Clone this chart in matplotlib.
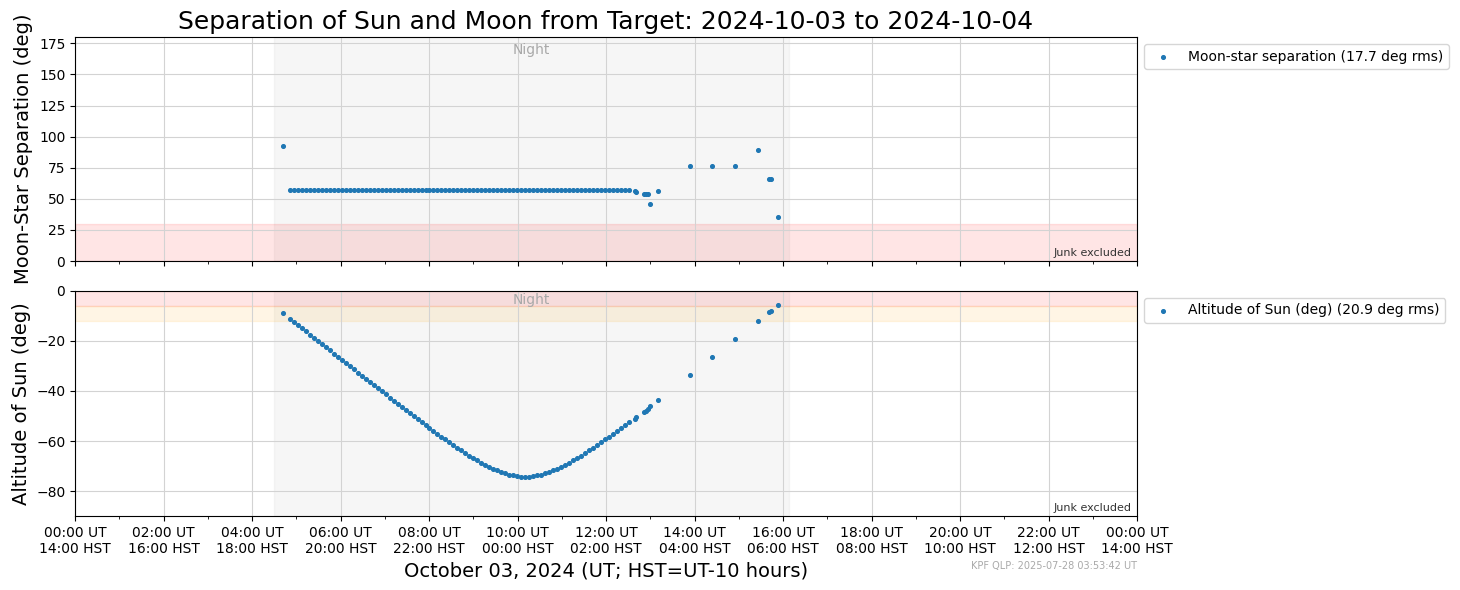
import matplotlib.pyplot as plt

# times in UT hours on 2024-10-03
t_main = [4.86 + 0.09 * i for i in range(86)]
t_extra = [12.66, 12.68, 12.86, 12.90, 12.94, 13.00, 13.17, 13.90, 14.40, 14.91, 15.43, 15.68, 15.72, 15.89]
times = [4.70] + t_main + t_extra

sep_main = [57.5] * 86
sep_extra = [56.0, 55.5, 53.5, 53.5, 53.5, 45.5, 56.5, 76.5, 76.5, 76.5, 89.5, 66.0, 66.0, 35.0]
moon_sep = [92.5] + sep_main + sep_extra

alt_down = [-11.09, -12.36, -13.63, -14.90, -16.17, -17.44, -18.72, -19.98, -21.25, -22.53,
            -23.79, -25.06, -26.32, -27.59, -28.85, -30.11, -31.37, -32.63, -33.88, -35.14,
            -36.39, -37.65, -38.91, -40.14, -41.39, -42.63, -43.85, -45.09, -46.30, -47.53,
            -48.75, -49.97, -51.16, -52.36, -53.56, -54.73, -55.92, -57.06, -58.22, -59.35,
            -60.48, -61.58, -62.68, -63.74, -64.78, -65.80, -66.78, -67.74, -68.66, -69.53,
            -70.35, -71.11, -71.79, -72.41, -72.95, -73.42, -73.79, -74.07, -74.23, -74.28]
alt_up = [-74.23, -74.07, -73.79, -73.42, -72.95, -72.41, -71.79, -71.11, -70.35, -69.53,
          -68.66, -67.74, -66.78, -65.80, -64.78, -63.74, -62.68, -61.58, -60.48, -59.35,
          -58.22, -57.06, -55.92, -54.73, -53.56, -52.36]
alt_extra = [-51.0, -50.5, -48.5, -48.0, -47.3, -46.0, -43.6, -33.6, -26.4, -19.2, -12.0, -8.6, -8.0, -5.6]
sun_alt = [-9.0] + alt_down + alt_up + alt_extra

night_start, night_end = 4.50, 16.13
tick_hours = list(range(0, 25, 2))
tick_labels = [f"{h % 24:02d}:00 UT\n{(h - 10) % 24:02d}:00 HST" for h in tick_hours]

fig = plt.figure(figsize=(14.6, 5.9), dpi=100)
ax1 = fig.add_axes([0.0514, 0.5576, 0.7274, 0.3794])
ax2 = fig.add_axes([0.0514, 0.1254, 0.7274, 0.3814], sharex=ax1)

for ax in (ax1, ax2):
    ax.axvspan(night_start, night_end, color="lightgray", alpha=0.2, zorder=0)
    ax.grid(True, color="lightgray")
    ax.set_axisbelow(True)
    ax.set_xlim(0, 24)
    ax.set_xticks(tick_hours)
    ax.set_xticks(range(0, 25), minor=True)
    ax.text(0.995, 0.015, "Junk excluded", transform=ax.transAxes, ha="right",
            va="bottom", fontsize=8, color="#333333")

ax1.axhspan(0, 30, color="red", alpha=0.1, zorder=0)
ax1.scatter(times, moon_sep, s=7, label="Moon-star separation (17.7 deg rms)")
ax1.set_ylim(0, 180)
ax1.set_yticks(range(0, 176, 25))
ax1.set_ylabel("Moon-Star Separation (deg)", fontsize=14)
ax1.text((night_start + night_end) / 2, 175, "Night", ha="center", va="top", color="darkgray", fontsize=10)
ax1.tick_params(labelbottom=False)
ax1.set_title("Separation of Sun and Moon from Target: 2024-10-03 to 2024-10-04", fontsize=18)
ax1.legend(loc="upper left", bbox_to_anchor=(1.0, 1.0))

ax2.axhspan(-6, 0, color="red", alpha=0.1, zorder=0)
ax2.axhspan(-12, -6, color="orange", alpha=0.1, zorder=0)
ax2.scatter(times, sun_alt, s=7, label="Altitude of Sun (deg) (20.9 deg rms)")
ax2.set_ylim(-90, 0)
ax2.set_ylabel("Altitude of Sun (deg)", fontsize=14)
ax2.text((night_start + night_end) / 2, -1, "Night", ha="center", va="top", color="darkgray", fontsize=10)
ax2.set_xticklabels(tick_labels)
ax2.set_xlabel("October 03, 2024 (UT; HST=UT-10 hours)", fontsize=14)
ax2.legend(loc="upper left", bbox_to_anchor=(1.0, 1.0))
ax2.text(1.0, -0.2, "KPF QLP: 2025-07-28 03:53:42 UT", transform=ax2.transAxes,
         ha="right", va="top", fontsize=7, color="darkgray")

fig.savefig("out.png")
